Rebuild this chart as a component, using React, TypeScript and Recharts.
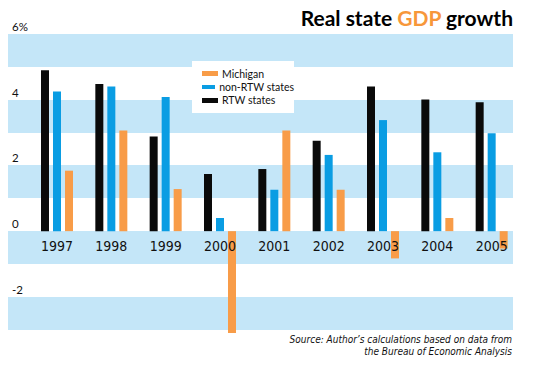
import { Bar, BarChart, CartesianGrid, LabelList, Legend, XAxis, YAxis } from "recharts";

const years = ["1997", "1998", "1999", "2000", "2001", "2002", "2003", "2004", "2005"];
const rtwStates = [4.9, 4.48, 2.88, 1.74, 1.89, 2.75, 4.4, 4.01, 3.92];
const nonRtwStates = [4.25, 4.4, 4.08, 0.4, 1.26, 2.32, 3.38, 2.4, 2.98];
const michigan = [1.84, 3.06, 1.28, -3.1, 3.06, 1.26, -0.83, 0.4, -0.53];
const yTicks = [-2, 0, 2, 4, 6];
// edges of the alternating shaded bands, top to bottom
const bandEdges = [6, 5, 4, 3, 2, 1, 0, -1, -2, -3];

const data = years.map((year, i) => ({
  year,
  rtw: rtwStates[i],
  nonRtw: nonRtwStates[i],
  michigan: michigan[i],
}));

const BLACK = "#0a0a0a";
const BLUE = "#0a9de3";
const ORANGE = "#f89c48";
const BAND = "#c4e6f8";
const FONT = "Lato, 'Open Sans', sans-serif";
const NARROW = "'Liberation Sans Narrow', 'DejaVu Sans Condensed', sans-serif";

const series = [
  { key: "rtw", name: "RTW states", color: BLACK },
  { key: "nonRtw", name: "non-RTW states", color: BLUE },
  { key: "michigan", name: "Michigan", color: ORANGE },
];

function YTick(props: any) {
  const { x, y, payload } = props;
  const label = payload.value === 6 ? "6%" : String(payload.value);
  return (
    <text x={x} y={y - 3} fontSize={11.5} fontFamily={FONT} fill="#111" textAnchor="start">
      {label}
    </text>
  );
}

function LegendBox() {
  const items = [...series].reverse();
  return (
    <div style={{ background: "#fff", width: 102, height: 52, paddingTop: 6, boxSizing: "border-box" }}>
      {items.map((item) => (
        <div key={item.key} style={{ display: "flex", alignItems: "center", height: 13.4 }}>
          <span style={{ display: "inline-block", width: 16, height: 4.5, background: item.color, marginLeft: 10, marginRight: 4 }} />
          <span style={{ fontFamily: FONT, fontSize: 10.5, color: "#111", whiteSpace: "nowrap" }}>{item.name}</span>
        </div>
      ))}
    </div>
  );
}

export default function App() {
  return (
    <div style={{ position: "absolute", left: 0, top: 0, width: 550, height: 365, background: "#fff" }}>
      <BarChart
        width={550}
        height={365}
        data={data}
        margin={{ top: 34, right: 37, bottom: 32, left: 8 }}
        barSize={8}
        barGap={4}
      >
        <CartesianGrid
          vertical={false}
          horizontalValues={bandEdges}
          horizontalFill={[BAND, "#ffffff"]}
          fillOpacity={1}
          stroke="none"
        />
        <XAxis dataKey="year" hide padding={{ left: 22, right: -6 }} />
        <YAxis
          type="number"
          domain={[(dataMin: number) => Math.min(dataMin, -3), 6]}
          ticks={yTicks}
          mirror
          axisLine={false}
          tickLine={false}
          tickSize={0}
          tickMargin={4}
          tick={<YTick />}
          interval={0}
        />
        <Legend
          layout="vertical"
          align="center"
          verticalAlign="middle"
          wrapperStyle={{ left: 192, top: 61, width: 102, height: 52 }}
          content={<LegendBox />}
        />
        {series.map((s) => (
          <Bar key={s.key} dataKey={s.key} name={s.name} fill={s.color} isAnimationActive={false}>
            {s.key === "nonRtw" && (
              <LabelList dataKey="year" position="bottom" offset={10} fill="#111" fontSize={14} fontFamily={NARROW} />
            )}
          </Bar>
        ))}
      </BarChart>
      <svg width={550} height={365} style={{ position: "absolute", left: 0, top: 0, pointerEvents: "none" }}>
        <text x={513} y={26} textAnchor="end" fontSize={21} fontWeight={700} fontFamily={FONT} fill="#000">
          Real state <tspan fill="#f7973a">GDP</tspan> growth
        </text>
        <text x={512} y={343} textAnchor="end" fontSize={10} fontStyle="italic" fontFamily={NARROW} fill="#111">
          Source: Author’s calculations based on data from
        </text>
        <text x={512} y={355} textAnchor="end" fontSize={10} fontStyle="italic" fontFamily={NARROW} fill="#111">
          the Bureau of Economic Analysis
        </text>
      </svg>
    </div>
  );
}
